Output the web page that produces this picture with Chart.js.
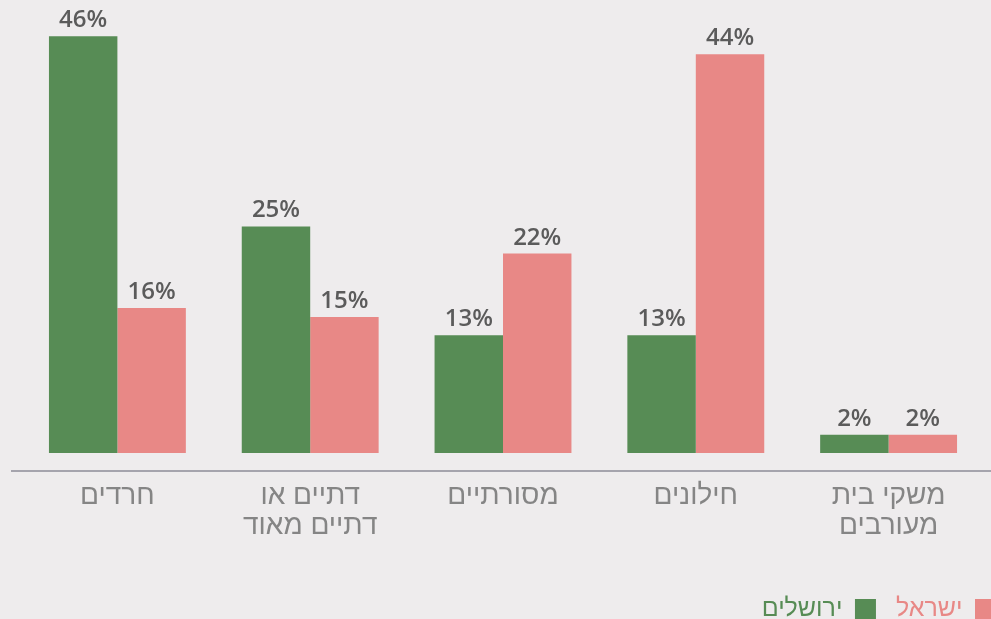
<!DOCTYPE html>
<html>
<head>
<meta charset="utf-8">
<script src="https://cdn.jsdelivr.net/npm/chart.js@4"></script>
<style>
  html, body { margin: 0; padding: 0; background: #eeeced; overflow: hidden; }
  #wrap { position: relative; width: 1053px; height: 619px; }
</style>
</head>
<body>
<div id="wrap"><canvas id="c"></canvas></div>
<script>
// קטגוריות וערכים (באחוזים)
const categories = [['חרדים'], ['דתיים או', 'דתיים מאוד'], ['מסורתיים'], ['חילונים'], ['משקי בית', 'מעורבים']];
const jerusalem = [46, 25, 13, 13, 2];
const israel = [16, 15, 22, 44, 2];
const seriesNames = ['ירושלים', 'ישראל'];

const GREEN = '#578c55', PINK = '#e88886';
const HEB = "'Liberation Sans', 'Noto Sans', sans-serif";

// תוויות ערך מעל העמודות
const valueLabels = {
  id: 'valueLabels',
  afterDatasetsDraw(chart) {
    const ctx = chart.ctx;
    ctx.save();
    ctx.font = "600 24px 'Open Sans', sans-serif";
    ctx.fillStyle = '#5b5b5b';
    ctx.textAlign = 'center';
    ctx.textBaseline = 'alphabetic';
    chart.data.datasets.forEach((ds, i) => {
      chart.getDatasetMeta(i).data.forEach((bar, j) => {
        ctx.fillText(ds.data[j] + '%', bar.x, bar.y - 9);
      });
    });
    ctx.restore();
  }
};

// קו הציר התחתון, רחב מאזור הגרף
const axisLine = {
  id: 'axisLine',
  beforeDatasetsDraw(chart) {
    const ctx = chart.ctx, y = chart.chartArea.bottom;
    ctx.save();
    ctx.strokeStyle = '#8d8d97';
    ctx.lineWidth = 1.5;
    ctx.beginPath();
    ctx.moveTo(11, y);
    ctx.lineTo(chart.width, y);
    ctx.stroke();
    ctx.restore();
  }
};

new Chart(document.getElementById('c'), {
  type: 'bar',
  data: {
    labels: categories,
    datasets: [
      { label: seriesNames[0], data: jerusalem, backgroundColor: GREEN },
      { label: seriesNames[1], data: israel, backgroundColor: PINK },
    ],
  },
  options: {
    responsive: true, maintainAspectRatio: false, animation: false,
    layout: { padding: { left: 21, right: 37, top: 0, bottom: -13 } },
    datasets: { bar: { categoryPercentage: 0.71, barPercentage: 1.0 } },
    plugins: {
      tooltip: { enabled: false },
      legend: {
        position: 'bottom', align: 'start', rtl: true, textDirection: 'rtl', reverse: true,
        labels: {
          boxWidth: 21, boxHeight: 21, padding: 20,
          font: { family: HEB, size: 25 },
          generateLabels: (chart) => chart.data.datasets.map((ds, i) => ({
            text: ds.label, fillStyle: ds.backgroundColor, strokeStyle: ds.backgroundColor,
            lineWidth: 0, fontColor: ds.backgroundColor, datasetIndex: i, hidden: false,
          })),
        },
      },
    },
    scales: {
      x: {
        grid: { display: false }, border: { display: false },
        afterFit: (scale) => { scale.height += 34; },
        ticks: {
          color: '#858585', padding: 2,
          font: { family: HEB, size: 28, lineHeight: '30px' },
        },
      },
      // ציר y נסתר, רק שומר רווח בצד ימין
      y: {
        position: 'right', min: -2, max: 50,
        grid: { display: false }, border: { display: false },
        ticks: { display: false },
        afterFit: (scale) => { scale.width = 31; },
      },
    },
  },
  plugins: [valueLabels, axisLine],
});
</script>
</body>
</html>
